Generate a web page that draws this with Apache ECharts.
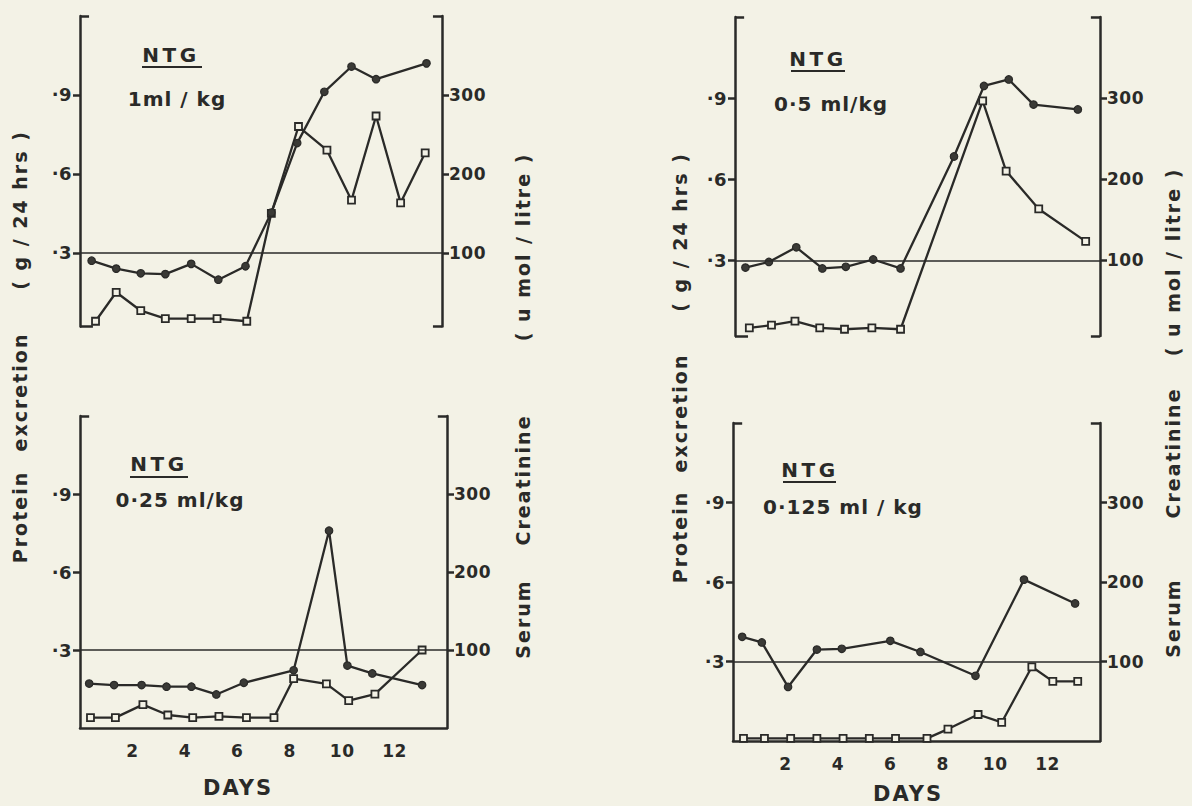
<!DOCTYPE html>
<html>
<head>
<meta charset="utf-8">
<script src="https://cdn.jsdelivr.net/npm/echarts@6/dist/echarts.min.js"></script>
<style>
html,body{margin:0;padding:0;background:#f3f2e6;}
#chart{width:1192px;height:806px;}
</style>
</head>
<body>
<div id="chart"></div>
<script>
// ---------- DATA ----------
// x = days, protein excretion (g / 24 hrs, left axis, squares)
// serum creatinine (µmol / litre, right axis, dots)

// Panel A : NTG 1 ml/kg
const daysA_creat = [0.45, 1.4, 2.35, 3.3, 4.3, 5.35, 6.4, 7.4, 8.4, 9.45, 10.5, 11.45, 13.4];
const creatA      = [90, 80, 74, 73, 86, 66, 83, 151, 239, 304, 336, 320, 340];
const daysA_prot  = [0.6, 1.4, 2.35, 3.3, 4.3, 5.3, 6.45, 7.4, 8.45, 9.55, 10.5, 11.45, 12.4, 13.35];
const protA       = [0.04, 0.15, 0.08, 0.05, 0.05, 0.05, 0.04, 0.45, 0.78, 0.69, 0.50, 0.82, 0.49, 0.68];

// Panel B : NTG 0.5 ml/kg
const daysB_creat = [0.4, 1.3, 2.35, 3.35, 4.25, 5.3, 6.35, 8.4, 9.55, 10.5, 11.45, 13.15];
const creatB      = [91, 98, 116, 90, 92, 101, 90, 228, 315, 323, 292, 286];
const daysB_prot  = [0.55, 1.4, 2.3, 3.25, 4.2, 5.25, 6.35, 9.5, 10.4, 11.65, 13.45];
const protB       = [0.05, 0.06, 0.075, 0.05, 0.045, 0.05, 0.045, 0.89, 0.63, 0.49, 0.37];

// Panel C : NTG 0.25 ml/kg
const daysC_creat = [0.35, 1.3, 2.35, 3.3, 4.25, 5.2, 6.25, 8.15, 9.5, 10.2, 11.15, 13.05];
const creatC      = [57, 55, 55, 53, 53, 43, 58, 74, 253, 80, 70, 55];
const daysC_prot  = [0.4, 1.35, 2.4, 3.35, 4.3, 5.3, 6.35, 7.4, 8.15, 9.4, 10.25, 11.25, 13.05];
const protC       = [0.04, 0.04, 0.09, 0.05, 0.04, 0.045, 0.04, 0.04, 0.19, 0.17, 0.105, 0.13, 0.30];

// Panel D : NTG 0.125 ml/kg
const daysD_creat = [0.35, 1.1, 2.1, 3.2, 4.15, 6.0, 7.15, 9.25, 11.1, 13.05];
const creatD      = [131, 124, 68, 115, 116, 126, 112, 82, 203, 173];
const daysD_prot  = [0.4, 1.2, 2.2, 3.2, 4.2, 5.2, 6.2, 7.4, 8.2, 9.35, 10.25, 11.4, 12.2, 13.15];
const protD       = [0.01, 0.01, 0.01, 0.01, 0.01, 0.01, 0.01, 0.01, 0.045, 0.10, 0.07, 0.28, 0.225, 0.225];

const panelTitles = ['NTG', 'NTG', 'NTG', 'NTG'];
const doseLabels  = ['1ml / kg', '0·5 ml/kg', '0·25 ml/kg', '0·125 ml / kg'];
const leftTicks   = [0.3, 0.6, 0.9];
const rightTicks  = [100, 200, 300];
const refLevel    = 0.3;          // horizontal reference line (= 100 µmol/l)
const xLabelText  = 'DAYS';
const leftTitle   = ['Protein', 'excretion', '( g / 24 hrs )'];
const rightTitle  = ['Serum', 'Creatinine', '( u mol / litre )'];

// ---------- LAYOUT / STYLE ----------
const INK = '#2a2a28';
const BG = '#f3f2e6';
const FONT = '"DejaVu Sans", sans-serif';
const RATIO = 1000 / 3;   // µmol/l per g/24h on the two axes

const panels = [
  {dc: daysA_creat, c: creatA, dp: daysA_prot, p: protA, grid: {left: 80,  top: 16,  width: 362, height: 310.5}, top: true},
  {dc: daysB_creat, c: creatB, dp: daysB_prot, p: protB, grid: {left: 735, top: 17,  width: 365, height: 319},   top: true},
  {dc: daysC_creat, c: creatC, dp: daysC_prot, p: protC, grid: {left: 80,  top: 416, width: 367, height: 312},   top: false},
  {dc: daysD_creat, c: creatD, dp: daysD_prot, p: protD, grid: {left: 733, top: 423, width: 367, height: 318},   top: false}
];
const XMIN = 0, XMAX = 14, YMAX = 1.2;

const grid = [], xAxis = [], yAxis = [], series = [];
panels.forEach((pn, i) => {
  const ymin = pn.top ? 0.02 : 0;
  grid.push(Object.assign({containLabel: false}, pn.grid));
  xAxis.push({
    type: 'value', gridIndex: i, min: XMIN, max: XMAX, interval: 2,
    axisLine: {show: !pn.top, onZero: false, lineStyle: {color: INK, width: 2.5}},
    axisTick: {show: false},
    splitLine: {show: false},
    axisLabel: {show: !pn.top, margin: 14, color: INK, fontFamily: FONT, fontWeight: 'bold', fontSize: 17,
      formatter: v => (v === XMIN || v === XMAX) ? '' : String(v)}
  });
  yAxis.push({
    type: 'value', gridIndex: i, position: 'left', min: ymin, max: YMAX,
    axisLine: {show: true, lineStyle: {color: INK, width: 2.5}},
    axisTick: {show: true, inside: false, length: 7, customValues: leftTicks, lineStyle: {color: INK, width: 2.5}},
    splitLine: {show: false},
    axisLabel: {show: true, margin: 8, color: INK, fontFamily: FONT, fontWeight: 'bold', fontSize: 18, customValues: leftTicks,
      formatter: v => '·' + Math.round(v * 10)}
  });
  yAxis.push({
    type: 'value', gridIndex: i, position: 'right', min: ymin * RATIO, max: YMAX * RATIO,
    axisLine: {show: true, lineStyle: {color: INK, width: 2.5}},
    axisTick: {show: true, inside: false, length: 7, customValues: rightTicks, lineStyle: {color: INK, width: 2.5}},
    splitLine: {show: false},
    axisLabel: {show: true, margin: 7, color: INK, fontFamily: FONT, fontWeight: 'bold', fontSize: 17, customValues: rightTicks,
      formatter: v => String(Math.round(v))}
  });

  const br = 0.35;
  const mlData = [
    [{coord: [XMIN, refLevel], lineStyle: {width: 1.6, color: INK, type: 'solid'}}, {coord: [XMAX, refLevel]}],
    [{coord: [XMIN, YMAX], lineStyle: {width: 2.5, color: INK, type: 'solid'}}, {coord: [XMIN + br, YMAX]}],
    [{coord: [XMAX, YMAX], lineStyle: {width: 2.5, color: INK, type: 'solid'}}, {coord: [XMAX - br, YMAX]}]
  ];
  if (pn.top) {
    mlData.push([{coord: [XMIN, ymin], lineStyle: {width: 2.5, color: INK, type: 'solid'}}, {coord: [XMIN + br + 0.15, ymin]}]);
    mlData.push([{coord: [XMAX, ymin], lineStyle: {width: 2.5, color: INK, type: 'solid'}}, {coord: [XMAX - br, ymin]}]);
  }

  series.push({
    type: 'line', name: 'Protein excretion', xAxisIndex: i, yAxisIndex: 2 * i,
    data: pn.dp.map((d, k) => [d, pn.p[k]]),
    symbol: 'rect', symbolSize: 7, showAllSymbol: true, clip: false,
    lineStyle: {color: INK, width: 2.3},
    itemStyle: {color: BG, borderColor: INK, borderWidth: 1.8},
    emphasis: {disabled: true}, silent: true, z: 3,
    markLine: {silent: true, symbol: ['none', 'none'], label: {show: false}, animation: false,
      lineStyle: {type: 'solid', color: INK},
      emphasis: {disabled: true}, data: mlData}
  });
  series.push({
    type: 'line', name: 'Serum creatinine', xAxisIndex: i, yAxisIndex: 2 * i + 1,
    data: pn.dc.map((d, k) => [d, pn.c[k]]),
    symbol: 'circle', symbolSize: 7.5, showAllSymbol: true, clip: false,
    lineStyle: {color: INK, width: 2.3},
    itemStyle: {color: '#3a3a36', borderColor: INK, borderWidth: 1.2},
    emphasis: {disabled: true}, silent: true, z: 4
  });
});

// ---------- TEXT ----------
const graphic = [];
function txt(x, y, text, size, rot) {
  graphic.push({type: 'text', x: x, y: y, rotation: rot || 0, silent: true,
    style: {text: text, fill: INK, font: 'bold ' + size + 'px ' + FONT, textAlign: 'center', textVerticalAlign: 'middle'}});
}
function uline(x1, x2, y) {
  graphic.push({type: 'line', silent: true, shape: {x1: x1, y1: y, x2: x2, y2: y}, style: {stroke: INK, lineWidth: 2}});
}
// panel labels
const ntgPos  = [[171, 55, 142, 202, 67], [818, 59, 791, 845, 71], [159, 464, 130, 188, 477], [810, 470, 783, 836, 482]];
const dosePos = [[177, 99], [831, 104], [180, 500], [843, 507]];
panels.forEach((pn, i) => {
  txt(ntgPos[i][0], ntgPos[i][1], panelTitles[i], 20);
  uline(ntgPos[i][2], ntgPos[i][3], ntgPos[i][4]);
  txt(dosePos[i][0], dosePos[i][1], doseLabels[i], 20);
});
txt(238, 788, xLabelText, 21);
txt(908, 794, xLabelText, 21);
// rotated axis titles (pieces placed as in the figure)
const R = Math.PI / 2;
[[20, [517, 392, 210]], [680, [537, 413, 232]]].forEach(([x, ys]) => {
  leftTitle.forEach((t, k) => txt(x, ys[k], t, 19, R));
});
[[523, [619, 480, 247]], [1173, [618, 453, 262]]].forEach(([x, ys]) => {
  rightTitle.forEach((t, k) => txt(x, ys[k], t, 19, R));
});

const chart = echarts.init(document.getElementById('chart'), null, {renderer: 'svg', width: 1192, height: 806});
chart.setOption({
  backgroundColor: BG,
  animation: false,
  grid: grid, xAxis: xAxis, yAxis: yAxis, series: series, graphic: graphic
});

// letter spacing like the stencil lettering of the original
function spacing(t) {
  if (t === 'NTG') return 3.5;
  if (leftTitle.indexOf(t) >= 0 || rightTitle.indexOf(t) >= 0) return 2;
  if (t === xLabelText) return 2;
  if (doseLabels.indexOf(t) >= 0) return 1;
  return 0.5;
}
function applySpacing() {
  document.querySelectorAll('#chart svg text').forEach(el => {
    el.style.letterSpacing = spacing(el.textContent.trim()) + 'px';
  });
}
applySpacing();
chart.on('finished', applySpacing);
setTimeout(applySpacing, 50);
</script>
</body>
</html>
